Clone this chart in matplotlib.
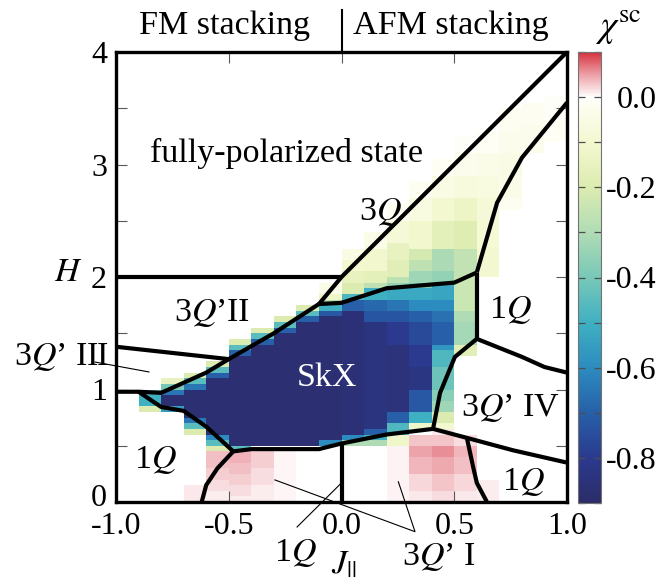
import numpy as np
import matplotlib
matplotlib.use('Agg')
import matplotlib.pyplot as plt
from matplotlib.colors import LinearSegmentedColormap, Normalize
from matplotlib.cm import ScalarMappable
from matplotlib.ticker import FixedLocator
from matplotlib.transforms import ScaledTranslation

plt.rcParams['font.family'] = ['Liberation Serif', 'DejaVu Serif']
plt.rcParams['mathtext.fontset'] = 'stix'

# ---------------- data ----------------
J_edges = np.round(np.arange(-1.0, 1.0001, 0.1), 3)      # 20 columns
H_edges = np.round(np.arange(0.0, 4.0001, 0.05), 3)      # 80 rows

# chi^sc per J column: runs of (first H-row, last H-row, value), H-row = H/0.05
chi_runs = [
    [],
    [(16, 16, -0.2), (17, 18, -0.5), (19, 19, -0.45)],
    [(16, 16, -0.55), (17, 18, -0.87), (19, 19, -0.65), (20, 20, -0.4), (21, 21, -0.15)],
    [(0, 2, 0.012), (12, 12, -0.2), (13, 13, -0.45), (14, 14, -0.65), (15, 19, -0.87),
     (20, 20, -0.65), (21, 21, -0.45), (22, 22, -0.2)],
    [(0, 1, 0.01), (2, 3, 0.017), (4, 5, 0.025), (6, 8, 0.033), (9, 9, -0.2), (10, 10, -0.45),
     (11, 11, -0.6), (12, 21, -0.87), (22, 22, -0.7), (23, 23, -0.45), (24, 24, -0.2)],
    [(0, 0, 0.01), (1, 2, 0.017), (3, 4, 0.025), (5, 6, 0.033), (7, 8, 0.04), (9, 9, -0.45),
     (10, 25, -0.87), (26, 26, -0.7), (27, 27, -0.45), (28, 28, -0.2)],
    [(0, 2, 0.01), (3, 5, 0.017), (6, 8, 0.025), (10, 27, -0.87), (28, 28, -0.7),
     (29, 29, -0.45), (30, 30, -0.2)],
    [(0, 8, 0.005), (10, 29, -0.87), (30, 30, -0.7), (31, 31, -0.45), (32, 32, -0.2)],
    [(10, 31, -0.87), (32, 32, -0.7), (33, 33, -0.45), (34, 34, -0.2)],
    [(10, 10, -0.6), (11, 32, -0.87), (33, 33, -0.72), (34, 34, -0.5), (35, 35, -0.28),
     (36, 36, -0.12), (37, 38, -0.04)],
    [(10, 10, -0.3), (11, 11, -0.6), (12, 33, -0.86), (34, 35, -0.7), (36, 36, -0.48),
     (37, 38, -0.2), (39, 40, -0.15), (41, 42, -0.1), (43, 44, -0.05)],
    [(10, 10, -0.3), (11, 11, -0.5), (12, 12, -0.7), (13, 31, -0.84), (32, 33, -0.73),
     (34, 35, -0.68), (36, 37, -0.5), (38, 38, -0.27), (39, 40, -0.17), (41, 44, -0.11),
     (45, 47, -0.04)],
    [(0, 9, 0.006), (10, 11, -0.12), (12, 13, -0.47), (14, 15, -0.7), (16, 27, -0.85),
     (28, 31, -0.8), (32, 33, -0.73), (34, 35, -0.65), (36, 37, -0.52), (38, 38, -0.35),
     (39, 39, -0.27), (40, 42, -0.18), (43, 45, -0.15), (46, 49, -0.08), (50, 52, -0.02)],
    [(0, 1, 0.012), (2, 4, 0.02), (5, 7, 0.038), (8, 9, 0.048), (10, 11, 0.03),
     (13, 13, -0.12), (14, 15, -0.5), (16, 19, -0.72), (20, 23, -0.83), (24, 27, -0.8),
     (28, 31, -0.76), (32, 33, -0.7), (34, 35, -0.6), (36, 37, -0.52), (38, 38, -0.4),
     (39, 40, -0.33), (41, 42, -0.27), (43, 44, -0.22), (45, 49, -0.11), (50, 53, -0.06),
     (54, 56, -0.02)],
    [(0, 1, 0.017), (2, 4, 0.03), (5, 7, 0.045), (8, 9, 0.058), (10, 11, 0.03), (12, 12, 0.012),
     (13, 13, -0.1), (14, 15, -0.2), (16, 17, -0.33), (18, 19, -0.37), (20, 23, -0.42),
     (24, 26, -0.47), (27, 27, -0.57), (28, 31, -0.7), (32, 33, -0.66), (34, 35, -0.6),
     (36, 38, -0.53), (39, 40, -0.35), (41, 44, -0.31), (45, 49, -0.17), (50, 53, -0.1),
     (54, 57, -0.05), (58, 60, -0.015)],
    [(0, 1, 0.012), (2, 4, 0.02), (5, 7, 0.033), (8, 9, 0.038), (10, 11, 0.017),
     (26, 27, -0.18), (28, 31, -0.32), (32, 33, -0.3), (34, 39, -0.24), (40, 44, -0.26),
     (45, 49, -0.19), (50, 53, -0.13), (54, 57, -0.07), (58, 61, -0.03), (62, 64, -0.01)],
    [(0, 3, 0.01), (40, 44, -0.1), (45, 49, -0.09), (50, 53, -0.08), (54, 57, -0.06),
     (58, 61, -0.04), (62, 65, -0.015)],
    [(52, 53, -0.02), (54, 57, -0.04), (58, 61, -0.05), (62, 65, -0.03), (66, 69, -0.02)],
    [(62, 66, -0.03), (67, 70, -0.02)],
    [(64, 67, -0.015), (68, 71, -0.01)],
]

# phase boundaries (J, H)
b_h2 = [(-1.0, 2.0), (0.0, 2.0)]
b_diag = [(1.0, 4.0), (0.0, 2.0), (-0.1, 1.76)]
b_skx_top = [(-0.1, 1.76), (-0.3, 1.50), (-0.5, 1.27), (-0.6, 1.15), (-0.7, 1.06),
             (-0.8, 0.97), (-0.9, 0.98), (-1.0, 0.98)]
b_skx_left_low = [(-0.9, 0.98), (-0.8, 0.845), (-0.7, 0.81), (-0.6, 0.67), (-0.48, 0.45)]
b_skx_bottom = [(-0.48, 0.45), (-0.4, 0.47), (-0.1, 0.47), (0.0, 0.52), (0.2, 0.60), (0.406, 0.65)]
b_1q_left = [(-0.48, 0.45), (-0.55, 0.30), (-0.6, 0.15), (-0.62, 0.0)]
b_j0 = [(0.0, 0.0), (0.0, 0.52)]
b_iv_bottom = [(0.406, 0.65), (0.556, 0.57), (0.76, 0.46), (1.0, 0.35)]
b_1q_right_low = [(0.556, 0.57), (0.584, 0.31), (0.6, 0.17), (0.645, 0.0)]
b_iv_left = [(0.406, 0.65), (0.437, 0.97), (0.503, 1.29), (0.6, 1.45)]
b_iv_top = [(0.6, 1.45), (0.8, 1.29), (0.9, 1.2), (1.0, 1.15)]
b_v06 = [(0.6, 1.45), (0.6, 2.04)]
b_3q_low = [(-0.1, 1.76), (0.0, 1.77), (0.2, 1.90), (0.5, 1.95), (0.6, 2.04)]
b_3q_right = [(0.6, 2.04), (0.69, 2.66), (0.8, 3.06), (1.0, 3.55)]
b_ii_iii = [(-1.0, 1.38), (-0.5, 1.27)]
boundaries = [b_h2, b_diag, b_skx_top, b_skx_left_low, b_skx_bottom, b_1q_left, b_j0,
              b_iv_bottom, b_1q_right_low, b_iv_left, b_iv_top, b_v06, b_3q_low,
              b_3q_right, b_ii_iii]

# pointer lines for labels
p_iii = [(-1.093, 1.244), (-0.854, 1.156)]
p_1q = [(-0.197, -0.222), (0.0, 0.17)]
p_i = [(-0.295, 0.196), (0.326, -0.264), (0.252, 0.18)]

labels = [
    ('fully-polarized state', -0.246, 3.10, 'black'),
    ('3$Q$', 0.171, 2.58, 'black'),
    ('3$Q$\u2019II', -0.574, 1.68, 'black'),
    ('1$Q$', 0.747, 1.71, 'black'),
    ('SkX', -0.064, 1.10, 'white'),
    ('3$Q$\u2019 III', -1.24, 1.29, 'black'),
    ('3$Q$\u2019 IV', 0.747, 0.836, 'black'),
    ('1$Q$', -0.827, 0.373, 'black'),
    ('1$Q$', 0.805, 0.178, 'black'),
    ('1$Q$', -0.206, -0.45, 'black'),
    ('3$Q$\u2019 I', 0.43, -0.49, 'black'),
]

x_ticks = [-1.0, -0.5, 0.0, 0.5, 1.0]
x_ticklabels = ['-1.0', '-0.5', '0.0', '0.5', '1.0']
y_ticks = [0, 1, 2, 3, 4]
y_minor = [0.5, 1.5, 2.5, 3.5]
cb_ticks = [0.0, -0.2, -0.4, -0.6, -0.8]
cb_ticklabels = ['0.0', '-0.2', '-0.4', '-0.6', '-0.8']
cb_minor = [0.1, -0.1, -0.3, -0.5, -0.7, -0.9]

cmap_vals = [-0.9, -0.8, -0.7, -0.6, -0.5, -0.4, -0.3, -0.2, -0.1, -0.02, 0.0, 0.05, 0.1]
cmap_cols = ['#2c2c68', '#2b3a8f', '#2760a8', '#2c8cbf', '#3fb0c2', '#78c8b8', '#b0dcb5',
             '#dcecb0', '#f4f8d0', '#fdfdf0', '#ffffff', '#eca0a7', '#d6323f']

# ---------------- build ----------------
chi = np.zeros((len(H_edges) - 1, len(J_edges) - 1))
for i, runs in enumerate(chi_runs):
    for k0, k1, v in runs:
        chi[k0:k1 + 1, i] = v
chi = np.ma.masked_equal(chi, 0.0)

vmin, vmax = -0.9, 0.1
cmap = LinearSegmentedColormap.from_list(
    'chi', [((v - vmin) / (vmax - vmin), c) for v, c in zip(cmap_vals, cmap_cols)], N=1024)
norm = Normalize(vmin=vmin, vmax=vmax)

FS = 24.5
TFS = 23
fig = plt.figure(figsize=(6.6, 5.8), dpi=100)
ax = fig.add_axes([116 / 660, 78 / 580, 451 / 660, 450 / 580])
cax = fig.add_axes([578 / 660, 77 / 580, 23 / 660, 451 / 580])

ax.pcolormesh(J_edges, H_edges, chi, cmap=cmap, norm=norm, shading='flat',
              linewidth=0, antialiased=False, zorder=1)

for b in boundaries:
    xs, ys = zip(*b)
    ax.plot(xs, ys, color='black', lw=3.0, solid_joinstyle='round',
            solid_capstyle='butt', zorder=3)

for p in (p_iii, p_1q, p_i):
    xs, ys = zip(*p)
    ax.plot(xs, ys, color='black', lw=0.8, zorder=3, clip_on=False)

for txt, x, y, c in labels:
    ax.text(x, y, txt, color=c, fontsize=FS, ha='center', va='center', zorder=4,
            clip_on=False)

ax.text(-1.213, 2.04, '$H$', fontsize=FS, ha='center', va='center')
ax.text(0.01, -0.56, '$J_{||}$', fontsize=FS, ha='center', va='center')

# stacking header
ax.plot([0.0, 0.0], [4.0, 4.37], color='black', lw=1.5, clip_on=False)
fig.text(225 / 660, 1 - 26 / 580, 'FM stacking', fontsize=FS, ha='center', va='center')
fig.text(451 / 660, 1 - 26 / 580, 'AFM stacking', fontsize=FS, ha='center', va='center')

ax.set_xlim(-1, 1)
ax.set_ylim(0, 4)
ax.set_xticks(x_ticks)
ax.set_xticklabels(x_ticklabels)
ax.set_yticks(y_ticks)
ax.yaxis.set_minor_locator(FixedLocator(y_minor))
ax.tick_params(which='both', direction='in', top=True, right=True, length=8, width=0.8,
               color='0.35', labelsize=TFS)
ax.tick_params(axis='x', pad=7)
ax.tick_params(axis='y', pad=6.5)
for s in ax.spines.values():
    s.set_linewidth(2.4)
    s.set_zorder(5)

# lift the "0" label a little, as in the reference, so it clears "-1.0"
ylab0 = ax.get_yticklabels()[0]
ylab0.set_transform(ylab0.get_transform() + ScaledTranslation(0, 5 / 72, fig.dpi_scale_trans))

cb = fig.colorbar(ScalarMappable(norm=norm, cmap=cmap), cax=cax)
cb.set_ticks(cb_ticks)
cb.set_ticklabels(cb_ticklabels)
cax.yaxis.set_minor_locator(FixedLocator(cb_minor))
cax.tick_params(which='both', direction='in', left=True, right=True, length=5, width=0.9,
                color='0.3', labelsize=TFS, pad=40)
for t in cax.get_yticklabels():
    t.set_ha('right')
cb.outline.set_linewidth(0.8)
cb.outline.set_edgecolor('0.45')
fig.text(618 / 660, 1 - 28 / 580, r'$\chi^{\mathrm{sc}}$', fontsize=27, ha='center', va='center')

fig.savefig('out.png', dpi=100)
